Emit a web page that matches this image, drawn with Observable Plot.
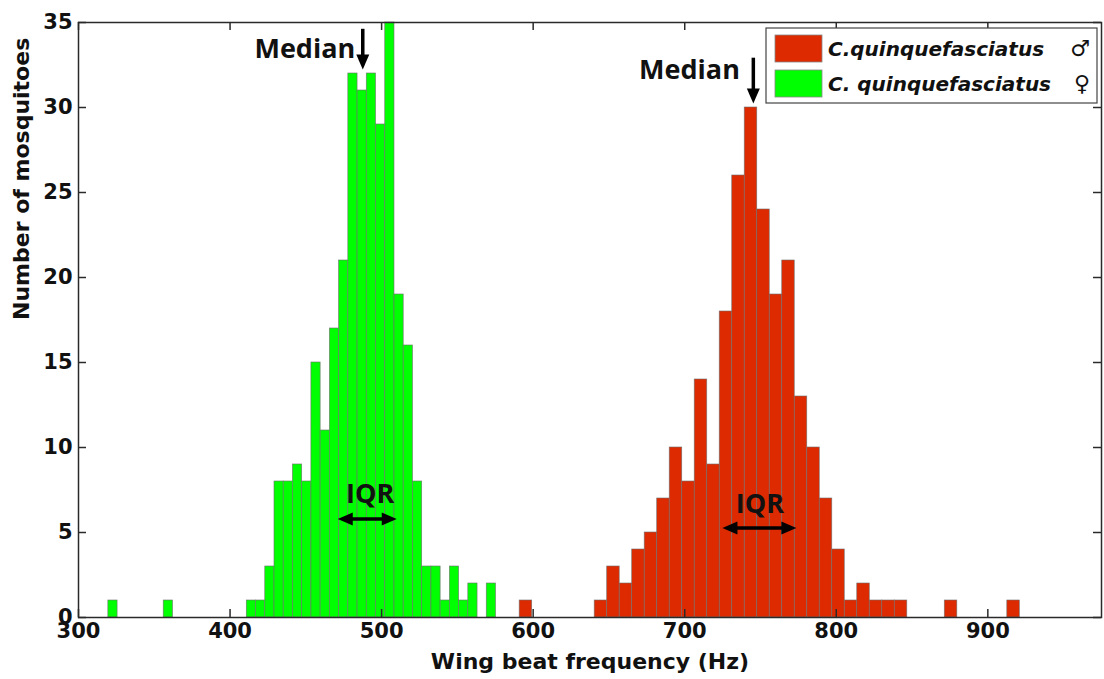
<!DOCTYPE html>
<html>
<head>
<meta charset="utf-8">
<script src="https://cdn.jsdelivr.net/npm/d3@7"></script>
<script src="https://cdn.jsdelivr.net/npm/@observablehq/plot@0.6"></script>
<style>
  body { margin: 0; background: #ffffff; }
  #chart { width: 1104px; height: 679px; }
</style>
</head>
<body>
<div id="chart"></div>
<script>
// ---------- data ----------
const xTicks = [300, 400, 500, 600, 700, 800, 900];
const yTicks = [0, 5, 10, 15, 20, 25, 30, 35];
const seriesNames = ["male", "female"];
const legendLabels = ["C.quinquefasciatus", "C. quinquefasciatus"];
const legendSymbols = ["\u2642", "\u2640"];

// female (green) histogram: first bin start (Hz), bin width (Hz), counts
const femaleStart = 319.7;
const femaleBinWidth = 6.09;
const femaleCounts = [1,0,0,0,0,0,1,0,0,0,0,0,0,0,0,
  1,1,3,8,8,9,8,15,11,17,21,32,31,32,29,35,19,16,8,3,3,1,3,1,2,0,2];

// male (red) histogram
const maleStart = 591.1;
const maleBinWidth = 8.25;
const maleCounts = [1,0,0,0,0,0,
  1,3,2,4,5,7,10,8,14,9,18,26,30,24,19,21,13,10,7,4,1,2,1,1,1,
  0,0,0,1,0,0,0,0,1];

// annotations (data units: Hz, count)
const medianArrows = [
  {x1: 487.9, y1: 34.6, x2: 487.9, y2: 32.2},
  {x1: 745.6, y1: 32.9, x2: 745.6, y2: 30.2}
];
const medianLabels = [
  {x: 482.6, y: 32.9, text: "Median"},
  {x: 736.4, y: 31.7, text: "Median"}
];
const iqrArrows = [
  {x1: 471.4, y1: 5.76, x2: 510.3, y2: 5.76},
  {x1: 725.2, y1: 5.24, x2: 774.0, y2: 5.24}
];
const iqrLabels = [
  {x: 492.5, y: 6.76, text: "IQR"},
  {x: 749.6, y: 6.12, text: "IQR"}
];

// ---------- build bar table ----------
function binsOf(series, start, w, counts) {
  const out = [];
  counts.forEach((c, i) => {
    if (c > 0) out.push({series, x1: start + i * w, x2: start + (i + 1) * w, count: c});
  });
  return out;
}
const bars = [
  ...binsOf("female", femaleStart, femaleBinWidth, femaleCounts),
  ...binsOf("male", maleStart, maleBinWidth, maleCounts)
];

const colorRange = ["#dd2a00", "#00ff00"];

const W = 1104, H = 679, mL = 78, mR = 3, mT = 22, mB = 62;
const frameW = W - mL - mR, frameH = H - mT - mB;
const tickLen = 8;

// custom arrow mark with filled heads
function arrowMark(arrows, double) {
  return (index, scales) => {
    const g = d3.create("svg:g");
    const L = 15, HW = 6.5;
    for (const a of arrows) {
      const sx = scales.x(a.x1), sy = scales.y(a.y1);
      const ex = scales.x(a.x2), ey = scales.y(a.y2);
      const dx = ex - sx, dy = ey - sy, len = Math.hypot(dx, dy);
      const ux = dx / len, uy = dy / len, nx = -uy, ny = ux;
      const head = (tx, ty, vx, vy) => {
        const bx = tx - vx * L, by = ty - vy * L;
        return `M${tx},${ty}L${bx + nx * HW},${by + ny * HW}L${bx - nx * HW},${by - ny * HW}Z`;
      };
      const s0x = double ? sx + ux * (L - 2) : sx, s0y = double ? sy + uy * (L - 2) : sy;
      g.append("line")
        .attr("x1", s0x).attr("y1", s0y)
        .attr("x2", ex - ux * (L - 2)).attr("y2", ey - uy * (L - 2))
        .attr("stroke", "black").attr("stroke-width", 3.5);
      g.append("path").attr("d", head(ex, ey, ux, uy)).attr("fill", "black");
      if (double) g.append("path").attr("d", head(sx, sy, -ux, -uy)).attr("fill", "black");
    }
    return g.node();
  };
}

// legend inside the frame (top-right)
function legendMark() {
  return () => {
    const g = d3.create("svg:g");
    const left = 766, top = 28, bw = 331, bh = 75;
    g.append("rect").attr("x", left).attr("y", top).attr("width", bw).attr("height", bh)
      .attr("fill", "white").attr("stroke", "#444").attr("stroke-width", 1.2);
    seriesNames.forEach((s, i) => {
      const y0 = top + 7 + i * 35;
      g.append("rect").attr("x", left + 9).attr("y", y0).attr("width", 47).attr("height", 27)
        .attr("fill", colorRange[i]).attr("stroke", "#888").attr("stroke-width", 0.8);
      g.append("text").attr("x", left + 62).attr("y", y0 + 21)
        .attr("text-anchor", "start")
        .attr("font-family", "DejaVu Sans").attr("font-size", 20)
        .attr("font-weight", "bold").attr("font-style", "italic")
        .attr("fill", "#111").text(legendLabels[i]);
      g.append("text").attr("x", left + bw - 7).attr("y", y0 + 21)
        .attr("text-anchor", "end")
        .attr("font-family", "DejaVu Sans").attr("font-size", 22)
        .attr("font-weight", "bold")
        .attr("fill", "#111").text(legendSymbols[i]);
    });
    return g.node();
  };
}

const chart = Plot.plot({
  width: W, height: H,
  marginLeft: mL, marginRight: mR, marginTop: mT, marginBottom: mB,
  style: {fontFamily: "DejaVu Sans", background: "white", color: "black"},
  x: {domain: [300, 975], axis: null},
  y: {domain: [0, 35], axis: null},
  color: {domain: seriesNames, range: colorRange},
  marks: [
    Plot.rect(bars, {x1: "x1", x2: "x2", y1: 0, y2: "count", fill: "series",
      stroke: "#707070", strokeWidth: 0.7, strokeOpacity: 0.85}),
    Plot.frame({stroke: "#2a2a2a", strokeWidth: 1.5}),
    // inward ticks
    Plot.ruleX(xTicks, {x: d => d, insetTop: frameH - tickLen, stroke: "#2a2a2a", strokeWidth: 1.5}),
    Plot.ruleX(xTicks, {x: d => d, insetBottom: frameH - tickLen, stroke: "#2a2a2a", strokeWidth: 1.5}),
    Plot.ruleY(yTicks, {y: d => d, insetRight: frameW - tickLen, stroke: "#2a2a2a", strokeWidth: 1.5}),
    Plot.ruleY(yTicks, {y: d => d, insetLeft: frameW - tickLen, stroke: "#2a2a2a", strokeWidth: 1.5}),
    // tick labels
    Plot.axisX(xTicks, {tickSize: 0, tickPadding: 6, fontSize: 21, fontWeight: "bold",
      tickFormat: d => String(d), label: null, fill: "#111"}),
    Plot.axisY(yTicks, {tickSize: 0, tickPadding: 6, fontSize: 21, fontWeight: "bold",
      tickFormat: d => String(d), label: null, fill: "#111"}),
    // axis titles
    Plot.text(["Wing beat frequency (Hz)"], {frameAnchor: "bottom", dy: 51, lineAnchor: "bottom",
      fontSize: 22, fontWeight: "bold", fill: "#111"}),
    Plot.text(["Number of mosquitoes"], {frameAnchor: "left", dx: -50, rotate: -90, lineAnchor: "bottom",
      fontSize: 22, fontWeight: "bold", fill: "#111"}),
    // annotations
    Plot.text(medianLabels, {x: "x", y: "y", text: "text", textAnchor: "end", lineAnchor: "bottom",
      fontFamily: "Open Sans", fontSize: 27, fontWeight: "bold", fill: "#111"}),
    Plot.text(iqrLabels, {x: "x", y: "y", text: "text", textAnchor: "middle", lineAnchor: "bottom",
      fontFamily: "Open Sans", fontSize: 27, fontWeight: "bold", fill: "#111"}),
    arrowMark(medianArrows, false),
    arrowMark(iqrArrows, true),
    legendMark()
  ]
});
document.getElementById("chart").appendChild(chart);
</script>
</body>
</html>
